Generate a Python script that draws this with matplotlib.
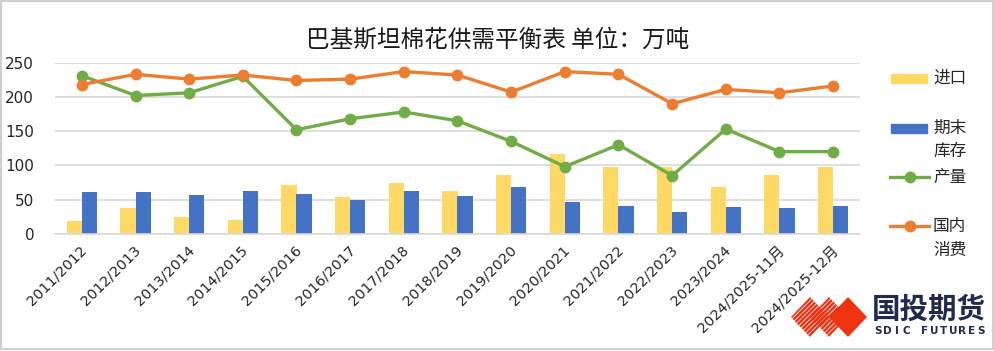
import matplotlib
matplotlib.use("Agg")
import matplotlib.pyplot as plt
from matplotlib.patches import Rectangle, Polygon
from matplotlib.lines import Line2D
import matplotlib.transforms as mtrans
import numpy as np

plt.rcParams['font.family'] = ['Noto Sans CJK SC', 'DejaVu Sans']

categories = ["2011/2012", "2012/2013", "2013/2014", "2014/2015", "2015/2016",
              "2016/2017", "2017/2018", "2018/2019", "2019/2020", "2020/2021",
              "2021/2022", "2022/2023", "2023/2024", "2024/2025-11月", "2024/2025-12月"]
imports = [19, 38, 25, 20, 71, 53, 74, 62, 86, 117, 98, 98, 69, 86, 98]
ending_stock = [61, 61, 56, 63, 58, 50, 62, 55, 69, 46, 41, 32, 39, 38, 40]
production = [231, 202, 206, 230, 152, 168, 178, 165, 135, 98, 130, 85, 153, 120, 120]
consumption = [218, 233, 226, 232, 224, 226, 237, 232, 207, 237, 233, 190, 211, 206, 216]
yticks = [0, 50, 100, 150, 200, 250]

C_IMP = '#FFD966'
C_STK = '#4472C4'
C_PRO = '#70AD47'
C_CON = '#ED7D31'
GRID = '#D9D9D9'
TXT = '#262626'

W, H = 995, 351
fig = plt.figure(figsize=(W / 100, H / 100), dpi=100)
fig.patch.set_facecolor('white')

ax = fig.add_axes([55 / W, 1 - 233.7 / H, (860 - 55) / W, (233.7 - 62.7) / H])
x = np.arange(len(categories))
bw = 0.28
ax.bar(x - bw / 2, imports, width=bw, color=C_IMP, zorder=2)
ax.bar(x + bw / 2, ending_stock, width=bw, color=C_STK, zorder=2)
ax.plot(x, production, color=C_PRO, lw=2.4, marker='o', ms=7.5, zorder=3)
ax.plot(x, consumption, color=C_CON, lw=2.4, marker='o', ms=7.5, zorder=4)

ax.set_xlim(-0.5, len(categories) - 0.5)
ax.set_ylim(0, 250)
ax.set_yticks(yticks)
ax.yaxis.grid(True, color=GRID, lw=1.2, zorder=0)
ax.set_axisbelow(True)
for s in ['top', 'right', 'left']:
    ax.spines[s].set_visible(False)
ax.spines['bottom'].set_color(GRID)
ax.spines['bottom'].set_linewidth(1.2)
ax.tick_params(axis='y', length=0, pad=15, labelsize=11, labelcolor=TXT)
ax.tick_params(axis='x', length=0, pad=10)
ax.set_xticks(x)
ax.set_xticklabels(categories, rotation=45, ha='right', va='center',
                   rotation_mode='anchor', fontsize=10.4, color=TXT,
                   family=['DejaVu Sans', 'Noto Sans CJK SC'])
shift = mtrans.ScaledTranslation(3 / 100, 0, fig.dpi_scale_trans)
for lab in ax.get_xticklabels():
    lab.set_transform(lab.get_transform() + shift)
for lab in ax.get_yticklabels():
    lab.set_family(['DejaVu Sans', 'Noto Sans CJK SC'])

# Title
fig.text(498 / W, 1 - 40 / H, "巴基斯坦棉花供需平衡表 单位：万吨", ha='center', va='center',
         fontsize=17, color='#1a1a1a')

# overlay in pixel coordinates
ov = fig.add_axes([0, 0, 1, 1], facecolor='none')
ov.set_xlim(0, W)
ov.set_ylim(H, 0)
ov.axis('off')

# border
ov.add_patch(Rectangle((1, 1), W - 3, H - 3, fill=False, ec='#D0D0D0', lw=1.5))

# legend
lfs = 12
ov.add_patch(Rectangle((891, 73.5), 36, 9, color=C_IMP))
ov.text(933, 78, "进口", va='center', ha='left', fontsize=lfs, color=TXT)
ov.add_patch(Rectangle((891, 124), 36, 9, color=C_STK))
ov.text(933, 128, "期末", va='center', ha='left', fontsize=lfs, color=TXT)
ov.text(933, 151, "库存", va='center', ha='left', fontsize=lfs, color=TXT)
ov.add_line(Line2D([890, 929], [177, 177], color=C_PRO, lw=2.4))
ov.plot([909.5], [177], 'o', color=C_PRO, ms=7.5)
ov.text(933, 177, "产量", va='center', ha='left', fontsize=lfs, color=TXT)
ov.add_line(Line2D([890, 929], [226, 226], color=C_CON, lw=2.4))
ov.plot([909.5], [226], 'o', color=C_CON, ms=7.5)
ov.text(933, 226, "国内", va='center', ha='left', fontsize=lfs, color=TXT)
ov.text(933, 250, "消费", va='center', ha='left', fontsize=lfs, color=TXT)

# logo
RED = '#F03210'
solid = Polygon([(848, 298), (866, 317), (848, 336), (830, 317)], closed=True,
                color=RED, zorder=5)
ov.add_patch(solid)
for cx in (810, 829):
    dia = Polygon([(cx, 297), (cx + 19, 317), (cx, 337), (cx - 19, 317)], closed=True,
                  fill=False, ec='none')
    ov.add_patch(dia)
    for c in np.arange(cx + 280, cx + 360, 4.6):
        ln, = ov.plot([cx - 30, cx + 30], [c - (cx - 30), c - (cx + 30)],
                      color=RED, lw=1.8, solid_capstyle='butt', zorder=4)
        ln.set_clip_path(dia)
ov.text(929, 310, "国投期货", ha='center', va='center', fontsize=20.5, weight='bold',
        color='#1F2A4E')
letters = "SDIC FUTURES"
xs = np.linspace(878, 981, len(letters))
for ch, xx in zip(letters, xs):
    ov.text(xx, 331.5, ch, ha='center', va='center', fontsize=7.5, weight='bold',
            color='#1F2A4E', family='DejaVu Sans')

fig.savefig('out.png', dpi=100, facecolor='white')
